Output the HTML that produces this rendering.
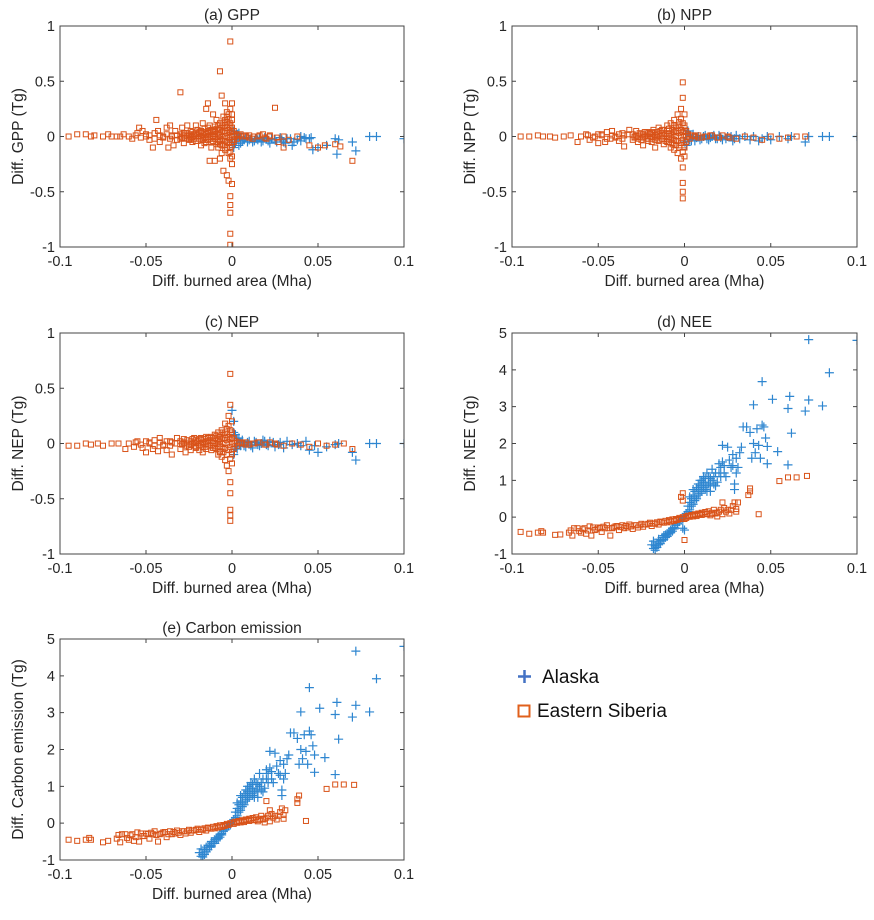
<!DOCTYPE html>
<html><head><meta charset="utf-8"><style>
body{margin:0;background:#fff;}
svg text{font-family:"Liberation Sans",Arial,sans-serif;fill:#262626;}
</style></head><body>
<svg id="fig" width="874" height="915" viewBox="0 0 874 915" xmlns="http://www.w3.org/2000/svg">
<g id="legend">
<g>
<path d="M518 676.5H531M524.5 670V683" stroke="#4472C4" stroke-width="2.5"/>
<text x="542" y="683" font-size="19" style="font-family:'Liberation Sans','Noto Sans CJK KR',sans-serif;fill:#111">Alaska</text></g>
<g>
<rect x="518.5" y="705.5" width="11" height="11" fill="none" stroke="#E0601C" stroke-width="2"/>
<text x="537" y="717" font-size="19" style="font-family:'Liberation Sans','Noto Sans CJK KR',sans-serif;fill:#111">Eastern Siberia</text></g>
</g>
</svg>
<script>
const xTicks=[-0.1,-0.05,0,0.05,0.1];
const xTickLabels=["-0.1","-0.05","0","0.05","0.1"];
const yTicksSmall=[-1,-0.5,0,0.5,1];
const yTickLabelsSmall=["-1","-0.5","0","0.5","1"];
const yTicksLarge=[-1,0,1,2,3,4,5];
const yTickLabelsLarge=["-1","0","1","2","3","4","5"];
const panelTitles=["(a) GPP","(b) NPP","(c) NEP","(d) NEE","(e) Carbon emission"];
const yAxisTitles=["Diff. GPP (Tg)","Diff. NPP (Tg)","Diff. NEP (Tg)","Diff. NEE (Tg)","Diff. Carbon emission (Tg)"];

// dense core of small near-zero differences (shared by GPP/NPP/NEP Siberia)
const coreSiberia=[-0.03,0.02,-0.029,-0.01,-0.028,0.01,-0.027,-0.02,-0.026,0.03,-0.026,0,-0.025,-0.03,-0.024,0.02,-0.024,-0.01,-0.023,0.04,-0.023,0,-0.022,-0.02,-0.022,0.01,-0.021,0.03,-0.021,-0.04,-0.02,0,-0.02,0.02,-0.019,-0.02,-0.019,0.04,-0.018,0,-0.018,0.03,-0.017,-0.03,-0.017,0.01,-0.016,0.04,-0.016,-0.01,-0.015,0.02,-0.015,-0.03,-0.014,0.05,-0.014,0,-0.013,-0.02,-0.013,0.03,-0.012,0.06,-0.012,0,-0.011,-0.04,-0.011,0.02,-0.01,0.05,-0.01,-0.02,-0.009,0.07,-0.009,0,-0.009,-0.05,-0.008,0.03,-0.008,-0.03,-0.007,0.06,-0.007,0,-0.007,-0.07,-0.006,0.04,-0.006,-0.03,-0.006,0.1,-0.005,0.08,-0.005,0,-0.005,-0.08,-0.004,0.05,-0.004,-0.04,-0.004,0.1,-0.003,0.03,-0.003,-0.1,-0.003,0.13,-0.002,0.06,-0.002,-0.06,-0.002,0,-0.002,0.16,-0.001,0.04,-0.001,-0.03,-0.001,0.12,-0.001,-0.14,0,0,0,0.08,0,-0.08,0,0.2,0,-0.18,0.001,0.05,0.001,-0.05,0.002,0.02,0.003,-0.02,0.004,0.01,-0.035,0.01,-0.036,-0.02,-0.038,0.02,-0.04,-0.01,-0.042,0.01,-0.045,-0.02,-0.048,0.01,-0.05,0.02,-0.053,-0.01,-0.056,0.01,0.006,0,0.008,0.01,0.01,-0.01,0.013,0,0.016,0.01,0.019,-0.01,0.022,0.01,0.026,-0.01];

// Panel (a) GPP  [x,y,...]
const gppSiberia=[-0.095,0,-0.09,0.02,-0.085,0.02,-0.082,0,-0.08,0.01,-0.075,0,-0.072,0.02,-0.07,0,-0.067,0,-0.065,0,-0.063,0.02,-0.06,0,-0.058,-0.02,-0.055,0.03,-0.054,0.08,-0.052,0.05,-0.05,0,-0.048,-0.03,-0.046,-0.1,-0.045,0.03,-0.044,0.15,-0.043,0.05,-0.042,-0.05,-0.04,0,-0.038,0.08,-0.037,-0.1,-0.036,0.1,-0.035,0,-0.034,-0.08,-0.033,0.05,-0.032,-0.03,-0.03,0.4,-0.03,0,-0.029,0.08,-0.028,-0.06,-0.027,0.03,-0.026,0.1,-0.025,-0.02,-0.024,0.05,-0.023,-0.05,-0.022,0.02,-0.021,0.1,-0.02,-0.04,-0.02,0.06,-0.019,0,-0.018,-0.08,-0.017,0.12,-0.016,0.03,-0.015,0.25,-0.015,-0.05,-0.014,0.3,-0.013,-0.22,-0.013,0.1,-0.012,0.05,-0.012,-0.1,-0.011,0.2,-0.01,0,-0.01,-0.22,-0.009,0.15,-0.008,-0.05,-0.008,0.1,-0.007,0.59,-0.007,-0.2,-0.006,0.37,-0.006,-0.15,-0.005,0.18,-0.005,-0.31,-0.004,0.3,-0.004,-0.08,-0.003,0.22,-0.003,-0.35,-0.002,0.1,-0.002,-0.4,-0.001,0.86,-0.001,-0.54,-0.001,-0.62,-0.001,-0.69,-0.001,-0.88,-0.001,-0.98,0,-0.43,0,0.15,0.002,0,0.005,0.02,0.008,0,0.01,0.01,0.012,-0.02,0.015,0,0.018,0.02,0.02,-0.02,0.022,0,0.025,0.26,0.027,-0.05,0.03,-0.1,0.03,0,0.033,-0.03,0.038,0,0.045,-0.08,0.05,-0.1,0.054,-0.08,0.06,-0.07,0.063,-0.09,0.07,-0.22,
-0.019,0.03,-0.018,0.05,-0.017,-0.02,-0.016,0.07,-0.016,-0.06,-0.015,0.02,-0.014,0.08,-0.014,-0.03,-0.013,0.04,-0.012,-0.05,-0.011,0.06,-0.011,-0.02,-0.01,0.09,-0.01,0.04,-0.009,-0.07,-0.009,0.02,-0.008,0.06,-0.008,-0.1,-0.007,0.12,-0.007,0.02,-0.007,-0.04,-0.006,0.08,-0.006,-0.08,-0.005,0.05,-0.005,-0.02,-0.005,0.12,-0.004,0.15,-0.004,0,-0.004,-0.12,-0.003,0.08,-0.003,-0.05,-0.003,0.18,-0.002,0.03,-0.002,-0.15,-0.002,0.2,-0.001,0.1,-0.001,-0.1,-0.001,0.25,-0.001,-0.2,0,0.05,0,-0.05,0,-0.25,0,0.3,0.001,0.02,0.001,-0.03,0.003,0.01,-0.025,0.01,-0.028,0.03,-0.032,0.01,-0.024,-0.03,-0.03,-0.02].concat(coreSiberia);
const gppAlaska=[0,-0.05,0.001,-0.1,0.002,-0.03,0.003,0.02,0.004,-0.08,0.005,-0.02,0.006,-0.04,0.008,-0.01,0.01,-0.03,0.012,-0.05,0.014,-0.02,0.016,-0.01,0.018,-0.04,0.02,-0.02,0.022,-0.06,0.025,-0.03,0.028,-0.01,0.03,-0.05,0.032,-0.02,0.035,-0.08,0.038,-0.03,0.04,0,0.042,-0.01,0.045,-0.02,0.047,-0.12,0.05,-0.1,0.055,-0.08,0.06,-0.02,0.061,-0.16,0.062,-0.03,0.07,-0.05,0.072,-0.13,0.08,0,0.084,0,0.1,-0.02,
0.001,0.05,0.002,-0.06,0.003,-0.02,0.004,0.03,0.005,-0.06,0.007,-0.03,0.009,-0.05,0.011,-0.02,0.013,-0.04,0.015,-0.03,0.017,-0.05,0.019,-0.01,0.021,-0.04,0.023,-0.02,0.026,-0.05,0.029,-0.03,0.031,-0.06,0.034,-0.02,0.036,-0.05,0.04,-0.04,0.043,-0.02,0.046,-0.01];

// Panel (b) NPP
const nppSiberia=[-0.095,0,-0.09,0,-0.085,0.01,-0.082,0,-0.078,0,-0.075,-0.01,-0.07,0,-0.066,0.01,-0.062,-0.05,-0.06,0,-0.057,0.02,-0.055,-0.03,-0.052,0,-0.05,-0.06,-0.048,0.02,-0.046,-0.05,-0.045,0.04,-0.043,-0.02,-0.042,0.05,-0.04,0,-0.038,-0.04,-0.036,0.03,-0.035,-0.09,-0.033,0.02,-0.032,0.06,-0.03,-0.03,-0.029,0,-0.028,0.05,-0.027,-0.05,-0.025,0.02,-0.024,-0.08,-0.022,0.04,-0.021,-0.02,-0.02,0.03,-0.019,-0.05,-0.018,0.06,-0.017,-0.1,-0.016,0.02,-0.015,0.08,-0.015,-0.04,-0.014,0,-0.013,0.06,-0.012,-0.07,-0.011,0.03,-0.01,0.1,-0.01,-0.05,-0.009,0.05,-0.008,-0.1,-0.008,0.12,-0.007,0.02,-0.007,-0.06,-0.006,0.15,-0.006,-0.12,-0.005,0.05,-0.005,-0.04,-0.004,0.2,-0.004,-0.15,-0.003,0.1,-0.003,-0.08,-0.002,0.25,-0.002,-0.2,-0.001,0.49,-0.001,0.35,-0.001,-0.28,-0.001,-0.42,-0.001,-0.5,-0.001,-0.56,0,0.1,0,-0.1,0,0.05,0.002,0,0.005,0.01,0.008,-0.01,0.012,0,0.015,0.01,0.02,-0.01,0.025,0,0.03,-0.02,0.035,0,0.04,-0.01,0.045,-0.03,0.05,0,0.055,-0.02,0.06,-0.01,0.065,0,0.07,0].concat(coreSiberia);
const nppAlaska=[0,-0.05,0.001,-0.08,0.002,0.05,0.003,-0.03,0.005,0.02,0.006,-0.04,0.008,0,0.01,-0.02,0.012,0.01,0.014,-0.03,0.016,0,0.018,-0.02,0.02,0.01,0.022,-0.03,0.025,0,0.028,-0.04,0.03,0.01,0.032,-0.02,0.035,0,0.038,-0.03,0.04,0,0.043,-0.04,0.045,-0.02,0.048,0,0.05,-0.03,0.055,0,0.06,-0.02,0.062,0,0.07,-0.05,0.072,0,0.08,0,0.084,0,0.1,0,
0.001,0.02,0.003,0.01,0.004,-0.04,0.007,-0.01,0.009,-0.03,0.011,0,0.013,-0.02,0.015,-0.01,0.017,0.01,0.019,-0.02,0.021,-0.01,0.024,-0.02,0.027,0,0.029,-0.02];

// Panel (c) NEP
const nepSiberia=[-0.095,-0.02,-0.09,-0.02,-0.085,0,-0.082,-0.01,-0.078,0,-0.075,-0.02,-0.07,0,-0.066,0,-0.062,-0.05,-0.06,0,-0.057,-0.03,-0.055,0.02,-0.052,-0.04,-0.05,-0.08,-0.048,0,-0.046,-0.05,-0.045,0.03,-0.043,-0.07,-0.042,0.05,-0.04,-0.02,-0.038,-0.06,-0.036,0.02,-0.035,-0.1,-0.033,0,-0.032,0.05,-0.03,-0.05,-0.029,0,-0.028,0.04,-0.027,-0.08,-0.025,0,-0.024,-0.06,-0.022,0.05,-0.021,-0.03,-0.02,0.02,-0.019,-0.06,-0.018,0.05,-0.017,-0.08,-0.016,0,-0.015,0.06,-0.015,-0.05,-0.014,0.02,-0.013,0.05,-0.012,-0.06,-0.011,0.02,-0.01,0.08,-0.01,-0.04,-0.009,0.04,-0.008,-0.1,-0.008,0.1,-0.007,0.02,-0.007,-0.08,-0.006,0.12,-0.006,-0.12,-0.005,0.05,-0.005,-0.05,-0.004,0.18,-0.004,-0.15,-0.003,0.1,-0.003,-0.2,-0.002,0.25,-0.002,-0.25,-0.001,0.63,-0.001,0.35,-0.001,-0.35,-0.001,-0.45,-0.001,-0.6,-0.001,-0.7,-0.001,-0.65,0,0.1,0,-0.1,0,0.05,0.002,0,0.005,0.01,0.008,-0.01,0.012,0,0.015,0.01,0.02,-0.01,0.025,0,0.03,-0.02,0.035,0,0.04,-0.01,0.045,-0.03,0.05,0,0.055,-0.02,0.06,-0.01,0.065,0,0.07,-0.05].concat(coreSiberia);
const nepAlaska=[0,0.3,0.001,0.2,0.001,-0.1,0.002,0.08,0.003,-0.05,0.004,0.05,0.005,-0.02,0.006,0.03,0.008,-0.03,0.01,0.02,0.012,-0.04,0.014,0.01,0.016,-0.02,0.018,0.03,0.02,-0.01,0.022,0.02,0.025,-0.03,0.028,0.01,0.03,-0.04,0.032,0.02,0.035,-0.01,0.038,0,0.04,-0.02,0.043,0.02,0.045,-0.06,0.048,-0.02,0.05,-0.08,0.055,-0.03,0.06,-0.01,0.062,0,0.07,-0.08,0.072,-0.15,0.08,0,0.084,0,0.1,0,
0.001,0.1,0.002,-0.03,0.003,0.04,0.005,0.01,0.007,-0.02,0.009,0.01,0.011,-0.02,0.013,0.02,0.015,-0.01,0.017,0,0.019,0.02,0.021,-0.02,0.024,0.01,0.027,-0.01];

// Panel (d) NEE
const neeSiberia=[-0.095,-0.4,-0.09,-0.45,-0.085,-0.42,-0.083,-0.38,-0.082,-0.42,-0.075,-0.48,-0.072,-0.47,-0.067,-0.42,-0.066,-0.36,-0.065,-0.5,-0.062,-0.3,-0.06,-0.42,-0.058,-0.3,-0.057,-0.45,-0.055,-0.25,-0.054,-0.5,-0.052,-0.35,-0.05,-0.28,-0.048,-0.4,-0.046,-0.3,-0.045,-0.22,-0.043,-0.5,-0.042,-0.3,-0.04,-0.25,-0.038,-0.35,-0.036,-0.22,-0.035,-0.3,-0.033,-0.28,-0.032,-0.2,-0.03,-0.32,-0.028,-0.22,-0.027,-0.28,-0.025,-0.18,-0.024,-0.26,-0.022,-0.2,-0.02,-0.15,-0.019,-0.24,-0.018,-0.18,-0.016,-0.14,-0.015,-0.2,-0.014,-0.12,-0.012,-0.15,-0.011,-0.1,-0.01,-0.14,-0.009,-0.08,-0.008,-0.12,-0.007,-0.06,-0.006,-0.1,-0.005,-0.05,-0.004,-0.07,-0.003,-0.02,-0.002,-0.05,-0.001,0,-0.001,0.45,-0.001,0.65,-0.002,0.55,0,-0.62,0,-0.05,0.001,0.02,0.002,0.04,0.003,0.03,0.004,0.06,0.005,0.05,0.006,0.08,0.007,0.06,0.008,0.1,0.009,0.08,0.01,0.12,0.011,0.09,0.012,0.14,0.013,0.1,0.014,0.16,0.015,0.05,0.016,0.12,0.017,0.2,0.018,0.1,0.019,0.02,0.02,0.15,0.021,0.2,0.022,0.4,0.022,0.08,0.023,0.25,0.025,0.2,0.026,0.1,0.028,0.3,0.029,0.4,0.03,0.22,0.03,0.15,0.031,0.4,0.037,0.6,0.038,0.7,0.038,0.78,0.043,0.08,0.055,0.98,0.06,1.08,0.065,1.08,0.071,1.12,
-0.064,-0.3,-0.061,-0.38,-0.059,-0.33,-0.056,-0.36,-0.053,-0.28,-0.051,-0.33,-0.049,-0.3,-0.047,-0.26,-0.044,-0.3,-0.041,-0.28,-0.039,-0.24,-0.037,-0.27,-0.034,-0.24,-0.031,-0.25,-0.029,-0.22,-0.026,-0.22,-0.023,-0.2,-0.021,-0.18,-0.017,-0.17,-0.013,-0.14,-0.009,-0.11,-0.005,-0.08,-0.003,-0.05,0.001,-0.02,0.003,0.01,0.005,0.02,0.007,0.03,0.01,0.06,0.013,0.08,0.016,0.09,0.019,0.12,0.024,0.15,0.027,0.2];
const neeAlaska=[-0.019,-0.75,-0.018,-0.85,-0.018,-0.65,-0.017,-0.78,-0.016,-0.7,-0.015,-0.6,-0.014,-0.65,-0.013,-0.55,-0.012,-0.5,-0.011,-0.55,-0.01,-0.45,-0.009,-0.4,-0.008,-0.35,-0.007,-0.3,-0.006,-0.28,-0.005,-0.22,-0.004,-0.18,-0.003,-0.12,-0.002,-0.08,-0.001,-0.3,-0.001,-0.05,0,-0.35,0,0.05,0.001,0.1,0.002,0.15,0.002,0.3,0.003,0.2,0.003,0.4,0.004,0.3,0.004,0.5,0.005,0.35,0.005,0.6,0.006,0.45,0.006,0.7,0.007,0.5,0.007,0.8,0.008,0.6,0.008,0.9,0.009,0.65,0.009,1.0,0.01,0.7,0.01,0.85,0.011,0.8,0.011,1.1,0.012,0.75,0.012,0.95,0.013,0.85,0.013,1.2,0.014,0.9,0.015,0.7,0.015,1.05,0.016,1.3,0.017,0.9,0.018,1.2,0.019,0.95,0.02,1.45,0.021,1.1,0.022,1.5,0.022,1.95,0.023,1.2,0.025,1.9,0.026,1.55,0.027,1.35,0.028,1.7,0.028,1.4,0.029,0.9,0.029,0.75,0.03,1.2,0.03,1.6,0.031,1.35,0.032,1.75,0.033,1.9,0.034,2.45,0.036,2.45,0.038,2.3,0.039,1.6,0.04,2.0,0.04,3.05,0.041,1.75,0.042,2.4,0.043,1.95,0.044,1.6,0.045,3.68,0.045,2.5,0.046,2.45,0.047,2.15,0.048,1.45,0.048,1.92,0.051,3.2,0.054,1.78,0.06,2.95,0.06,1.42,0.061,3.28,0.062,2.28,0.07,2.88,0.072,4.82,0.072,3.18,0.08,3.02,0.084,3.92,0.1,4.8,
-0.017,-0.9,-0.016,-0.82,-0.015,-0.75,-0.014,-0.72,-0.013,-0.62,-0.012,-0.6,-0.011,-0.48,-0.01,-0.52,-0.009,-0.45,-0.008,-0.42,-0.007,-0.38,-0.006,-0.32,0.003,0.55,0.005,0.75,0.006,0.55,0.008,0.75,0.009,0.85,0.01,1.0,0.011,0.95,0.012,1.05,0.013,0.7,0.014,1.1,0.015,0.85,0.016,1.0,0.017,1.1,0.018,0.85,0.02,1.2,0.021,1.35,0.023,1.4,0.024,1.1];

// Panel (e) Carbon emission
const ceSiberia=[-0.095,-0.45,-0.09,-0.48,-0.085,-0.45,-0.083,-0.4,-0.082,-0.45,-0.075,-0.52,-0.072,-0.48,-0.067,-0.42,-0.066,-0.32,-0.065,-0.52,-0.062,-0.3,-0.06,-0.45,-0.058,-0.3,-0.057,-0.48,-0.055,-0.25,-0.054,-0.5,-0.052,-0.35,-0.05,-0.28,-0.048,-0.42,-0.046,-0.3,-0.045,-0.22,-0.043,-0.5,-0.042,-0.3,-0.04,-0.25,-0.038,-0.38,-0.036,-0.22,-0.035,-0.3,-0.033,-0.28,-0.032,-0.2,-0.03,-0.32,-0.028,-0.22,-0.027,-0.28,-0.025,-0.18,-0.024,-0.26,-0.022,-0.2,-0.02,-0.15,-0.019,-0.24,-0.018,-0.18,-0.016,-0.14,-0.015,-0.2,-0.014,-0.12,-0.012,-0.15,-0.011,-0.1,-0.01,-0.14,-0.009,-0.08,-0.008,-0.12,-0.007,-0.06,-0.006,-0.1,-0.005,-0.05,-0.004,-0.07,-0.003,-0.02,-0.002,-0.05,-0.001,0,0.001,0.02,0.002,0.04,0.003,0.03,0.004,0.06,0.005,0.05,0.006,0.08,0.007,0.06,0.008,0.1,0.009,0.08,0.01,0.12,0.011,0.09,0.012,0.14,0.013,0.1,0.014,0.16,0.015,0.05,0.016,0.12,0.017,0.2,0.018,0.1,0.019,0.02,0.02,0.15,0.021,0.2,0.022,0.35,0.022,0.05,0.023,0.25,0.025,0.2,0.026,0.1,0.028,0.3,0.029,0.4,0.03,0.22,0.03,0.12,0.031,0.35,0.038,0.55,0.038,0.65,0.039,0.75,0.043,0.06,0.055,0.93,0.06,1.05,0.065,1.05,0.071,1.04,0.02,0.6,
-0.064,-0.3,-0.061,-0.4,-0.059,-0.33,-0.056,-0.38,-0.053,-0.28,-0.051,-0.35,-0.049,-0.3,-0.047,-0.26,-0.044,-0.32,-0.041,-0.28,-0.039,-0.24,-0.037,-0.3,-0.034,-0.24,-0.031,-0.26,-0.029,-0.22,-0.026,-0.22,-0.023,-0.2,-0.021,-0.18,-0.017,-0.17,-0.013,-0.14,-0.009,-0.11,-0.005,-0.08,-0.003,-0.05,0.001,-0.02,0.003,0.01,0.005,0.02,0.007,0.03,0.01,0.06,0.013,0.08,0.016,0.09,0.019,0.12,0.024,0.15,0.027,0.2];
const ceAlaska=[-0.019,-0.8,-0.018,-0.9,-0.018,-0.7,-0.017,-0.85,-0.016,-0.72,-0.015,-0.65,-0.014,-0.6,-0.013,-0.6,-0.012,-0.5,-0.011,-0.55,-0.01,-0.45,-0.009,-0.4,-0.008,-0.35,-0.007,-0.3,-0.006,-0.28,-0.005,-0.22,-0.004,-0.18,-0.003,-0.12,-0.002,-0.08,-0.001,-0.05,0,0.05,0.001,0.1,0.002,0.15,0.002,0.3,0.003,0.2,0.003,0.4,0.004,0.3,0.004,0.5,0.005,0.35,0.005,0.6,0.006,0.45,0.006,0.7,0.007,0.5,0.007,0.8,0.008,0.6,0.008,0.9,0.009,0.65,0.009,1.0,0.01,0.7,0.01,0.85,0.011,0.8,0.011,1.1,0.012,0.75,0.012,0.95,0.013,0.85,0.013,1.2,0.014,0.9,0.015,0.7,0.015,1.05,0.016,1.35,0.017,0.9,0.018,1.2,0.019,0.95,0.02,1.45,0.021,1.1,0.022,1.5,0.022,1.95,0.023,1.2,0.025,1.9,0.026,1.55,0.027,1.35,0.028,1.7,0.028,1.3,0.029,0.9,0.029,0.75,0.03,1.2,0.03,1.6,0.031,1.35,0.032,1.75,0.033,1.85,0.034,2.45,0.036,2.45,0.038,2.3,0.039,1.6,0.04,2.0,0.04,3.02,0.041,1.75,0.042,2.4,0.043,1.95,0.044,1.6,0.045,3.68,0.045,2.5,0.046,2.4,0.047,2.1,0.048,1.38,0.048,1.85,0.051,3.12,0.054,1.78,0.06,2.95,0.06,1.32,0.061,3.28,0.062,2.28,0.07,2.88,0.072,4.67,0.072,3.2,0.08,3.02,0.084,3.92,0.1,4.8,
-0.017,-0.92,-0.016,-0.85,-0.015,-0.78,-0.014,-0.72,-0.013,-0.65,-0.012,-0.62,-0.011,-0.5,-0.01,-0.55,-0.009,-0.45,-0.008,-0.42,-0.007,-0.38,-0.006,-0.32,0.003,0.55,0.005,0.75,0.006,0.55,0.008,0.75,0.009,0.85,0.01,1.0,0.011,0.95,0.012,1.05,0.013,0.7,0.014,1.1,0.015,0.85,0.016,1.0,0.017,1.1,0.018,0.85,0.02,1.2,0.021,1.35,0.023,1.4,0.024,1.1];

const NS="http://www.w3.org/2000/svg";
const svg=document.getElementById('fig');
const BLUE="#2E86D0", ORANGE="#D95319";
function mk(tag,attrs,parent){const e=document.createElementNS(NS,tag);for(const k in attrs)e.setAttribute(k,attrs[k]);(parent||svg).appendChild(e);return e;}

const panels=[
 {L:60,R:404,T:26,B:247,ymin:-1,ymax:1,yt:yTicksSmall,yl:yTickLabelsSmall,sib:gppSiberia,ala:gppAlaska,key:'gpp'},
 {L:512,R:857,T:26,B:247,ymin:-1,ymax:1,yt:yTicksSmall,yl:yTickLabelsSmall,sib:nppSiberia,ala:nppAlaska,key:'npp'},
 {L:60,R:404,T:333,B:554,ymin:-1,ymax:1,yt:yTicksSmall,yl:yTickLabelsSmall,sib:nepSiberia,ala:nepAlaska,key:'nep'},
 {L:512,R:857,T:333,B:554,ymin:-1,ymax:5,yt:yTicksLarge,yl:yTickLabelsLarge,sib:neeSiberia,ala:neeAlaska,key:'nee'},
 {L:60,R:404,T:639,B:860,ymin:-1,ymax:5,yt:yTicksLarge,yl:yTickLabelsLarge,sib:ceSiberia,ala:ceAlaska,key:'carbon-emission'}
];

panels.forEach((p,i)=>{
 const g=mk('g',{});
 
 
 const xs=v=>p.L+(v+0.1)/0.2*(p.R-p.L);
 const ys=v=>p.B-(v-p.ymin)/(p.ymax-p.ymin)*(p.B-p.T);
 const clipId='clip'+i;
 const cp=mk('clipPath',{id:clipId},g);
 mk('rect',{x:p.L,y:p.T,width:p.R-p.L,height:p.B-p.T},cp);
 const marks=mk('g',{'clip-path':'url(#'+clipId+')'},g);
 
 
 for(let k=0;k<p.ala.length;k+=2){
  const cx=xs(p.ala[k]),cy=ys(p.ala[k+1]);
  const m=mk('path',{d:`M${cx-4.5} ${cy}H${cx+4.5}M${cx} ${cy-4.5}V${cy+4.5}`,stroke:BLUE,'stroke-width':1.2,fill:'none'},marks);
  
  
 }
 for(let k=0;k<p.sib.length;k+=2){
  const cx=xs(p.sib[k]),cy=ys(p.sib[k+1]);
  const m=mk('rect',{x:cx-2.5,y:cy-2.5,width:5,height:5,stroke:ORANGE,'stroke-width':1,fill:'none'},marks);
  
  
 }
 const box=mk('rect',{x:p.L,y:p.T,width:p.R-p.L,height:p.B-p.T,fill:'none',stroke:'#444','stroke-width':1},g);
 
 
 xTicks.forEach((t,j)=>{
  const x=xs(t);
  mk('path',{d:`M${x} ${p.B}V${p.B-4}M${x} ${p.T}V${p.T+4}`,stroke:'#444'},g);
  const tl=mk('text',{x:x,y:p.B+19,'font-size':14.5,'text-anchor':'middle'},g);
  tl.textContent=xTickLabels[j];
  
  
 });
 p.yt.forEach((t,j)=>{
  const y=ys(t);
  mk('path',{d:`M${p.L} ${y}H${p.L+4}M${p.R} ${y}H${p.R-4}`,stroke:'#444'},g);
  const tl=mk('text',{x:p.L-5,y:y+5,'font-size':14.5,'text-anchor':'end'},g);
  tl.textContent=p.yl[j];
  
  
 });
 const tt=mk('text',{x:(p.L+p.R)/2,y:p.T-6,'font-size':15.5,'text-anchor':'middle'},g);
 tt.textContent=panelTitles[i];
 
 
 const xl=mk('text',{x:(p.L+p.R)/2,y:p.B+39,'font-size':15.5,'text-anchor':'middle'},g);
 xl.textContent="Diff. burned area (Mha)";
 
 
 const cy=(p.T+p.B)/2, lx=p.L-37;
 const yl=mk('text',{x:lx,y:cy,'font-size':15.5,'text-anchor':'middle',transform:`rotate(-90 ${lx} ${cy})`},g);
 yl.textContent=yAxisTitles[i];
 
 
});
svg.appendChild(document.getElementById('legend'));
</script>
</body></html>
